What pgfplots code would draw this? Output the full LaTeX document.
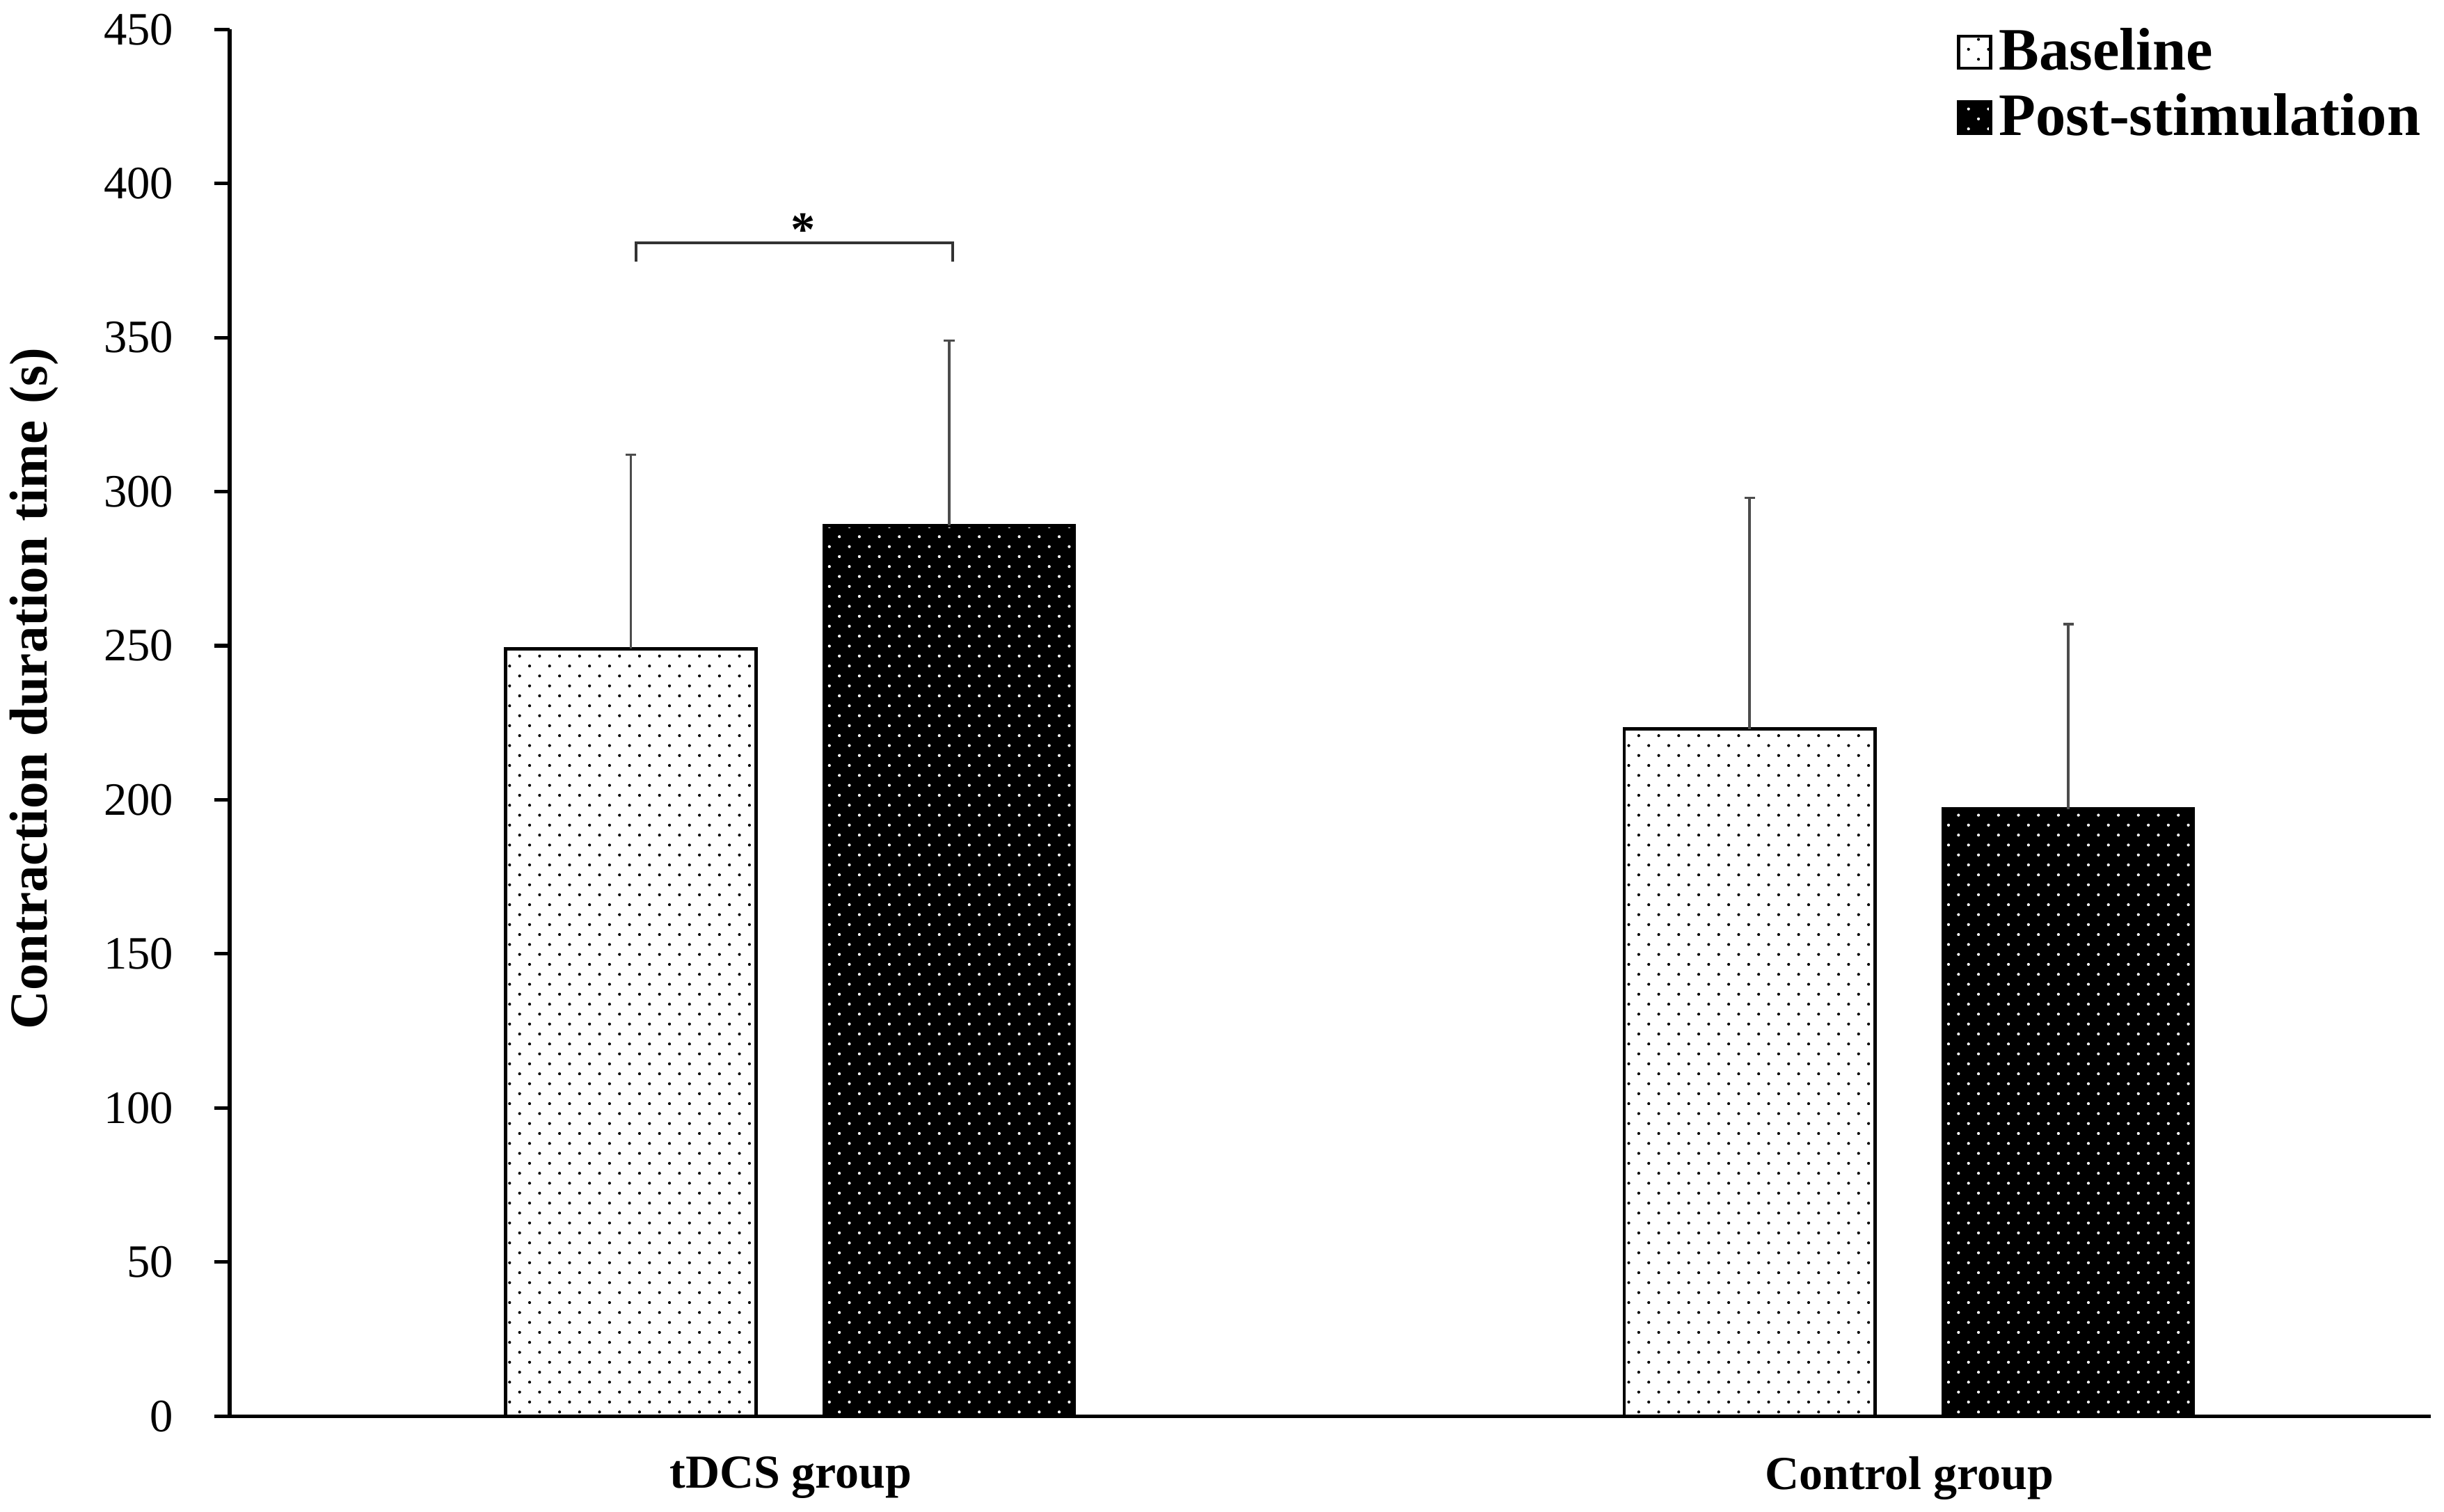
\documentclass[border=0pt]{standalone}
\usepackage{fontspec}
\setmainfont{Liberation Serif}
\usepackage{pgfplots}
\usepackage{pgfplotstable}
\pgfplotsset{compat=1.18}
\usetikzlibrary{patterns.meta}

\tikzdeclarepattern{
  name=sdots,
  type=uncolored,
  bottom left={(-0.5pt,-0.5pt)},
  top right={(4pt,3.9pt)},
  tile size={(4.48pt,4.46pt)},
  code={\fill (0pt,0pt) circle (0.33pt); \fill (2.24pt,2.23pt) circle (0.33pt);}
}
\pgfplotsset{sqlegend/.style={legend image code/.code={\draw[##1] (0pt,-3.6pt) rectangle (7.2pt,3.6pt);}}}

\pgfplotstableread{
x y e
-0.1431 249 63
0.8572 223 75
}\baselinedata
\pgfplotstableread{
x y e
0.1415 289 60
1.1421 197 60
}\postdata

\begin{document}
\begin{tikzpicture}
\path[use as bounding box] (-51.48pt,-21.37pt) rectangle (496.4pt,317.5pt);
\begin{axis}[
  at={(0,0)}, anchor=south west,
  scale only axis,
  width=493.4pt, height=310.9pt,
  xmin=-0.5017, xmax=1.466,
  ymin=0, ymax=450,
  axis x line=bottom, axis y line=left,
  axis line style={-, line width=0.8pt, black},
  ytick={0,50,...,450},
  xtick={0,1},
  xticklabels={tDCS group, Control group},
  x tick style={draw=none},
  y tick style={line width=0.8pt, black},
  tick align=outside,
  major tick length=3.4pt,
  /pgf/number format/assume math mode=true,
  yticklabel style={font=\fontsize{10.4}{12}\selectfont, inner sep=0pt, xshift=-9pt},
  xticklabel style={font=\bfseries\fontsize{10.6}{12}\selectfont, inner sep=0pt, yshift=-5.5pt},
  ylabel={Contraction\hspace{0.3em}duration\hspace{0.3em}time\hspace{0.3em}(s)},
  ylabel style={at={(axis description cs:-0.0888,0.5248)}, anchor=center, font=\bfseries\fontsize{12}{14}\selectfont},
  legend style={at={(axis description cs:0.7844,1.0065)}, anchor=north west, draw=none, fill=none, inner sep=0pt,
    font=\bfseries\fontsize{13.5}{15}\selectfont, row sep=0.8pt,
    nodes={inner sep=1.5pt}},
  legend cell align=left,
  clip=false,
]
\addplot[ybar, bar width=0.224, draw=black, line width=0.7pt, fill=white,
  postaction={pattern=sdots, pattern color=black},
  sqlegend,
  error bars/.cd, y dir=plus, y explicit,
  error bar style={line width=0.55pt, color=black!70},
  error mark options={rotate=90, mark size=1.2pt, line width=0.55pt, color=black!70}]
  table[x=x, y=y, y error=e] {\baselinedata};
\addlegendentry{Baseline}
\addplot[ybar, bar width=0.224, draw=black, line width=0.7pt, fill=black,
  postaction={pattern=sdots, pattern color=white},
  sqlegend,
  error bars/.cd, y dir=plus, y explicit,
  error bar style={line width=0.55pt, color=black!70},
  error mark options={rotate=90, mark size=1.2pt, line width=0.55pt, color=black!70}]
  table[x=x, y=y, y error=e] {\postdata};
\addlegendentry{Post-stimulation}
\addplot[forget plot, sharp plot, mark=none, color=black!80, line width=0.65pt]
  coordinates {(-0.1384,374.6) (-0.1384,380.7) (0.1446,380.7) (0.1446,374.6)};
\node[font=\bfseries\fontsize{11}{12}\selectfont, inner sep=0pt] at (axis cs:0.011,385) {*};
\end{axis}
\end{tikzpicture}
\end{document}
